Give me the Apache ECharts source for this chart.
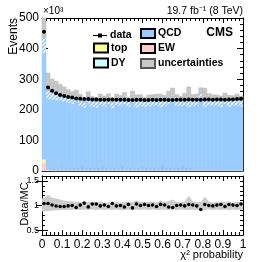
<!DOCTYPE html>
<html><head><meta charset="utf-8">
<script src="https://cdn.jsdelivr.net/npm/echarts@6/dist/echarts.min.js"></script>
<style>html,body{margin:0;padding:0;background:#fff}#c{width:270px;height:262px}</style>
</head><body><div id="c"></div>
<script>
// ---- data (events in units of 10^3), 50 bins of chi2 probability in [0,1] ----
const nBins = 50;
const xRange = [0, 1];
const dataEvents = [455, 273, 262, 254, 248, 245, 242, 240, 237, 236,
  235, 235, 234, 234, 233, 233, 233, 234, 233, 233,
  233, 232, 232, 233, 233, 232, 232, 233, 232, 233,
  233, 232, 232, 233, 233, 233, 234, 233, 233, 233,
  234, 234, 233, 234, 234, 233, 234, 234, 235, 236];
const qcd = [398, 258, 257, 255, 251, 248, 242, 238, 245, 232,
  222, 240, 225, 225, 233, 229, 236, 223, 233, 231,
  238, 225, 242, 224, 231, 225, 230, 229, 235, 226,
  229, 237, 240, 231, 229, 233, 227, 229, 233, 252,
  227, 232, 233, 230, 227, 236, 227, 230, 233, 227];
const ew = [27, 3, 1.2, 1.2, 1.2, 1.2, 1.2, 1.2, 1.2, 1.2,
  1.2, 1.2, 1.2, 1.2, 1.2, 1.2, 1.2, 1.2, 1.2, 1.2,
  1.2, 1.2, 1.2, 1.2, 1.2, 1.2, 1.2, 1.2, 1.2, 1.2,
  1.2, 1.2, 1.2, 1.2, 1.2, 1.2, 1.2, 1.2, 1.2, 1.2,
  1.2, 1.2, 1.2, 1.2, 1.2, 1.2, 1.2, 1.2, 1.2, 1.2];
const topq = [9, 1, 0.5, 0.5, 0.5, 0.5, 0.5, 0.5, 0.5, 0.5,
  0.5, 0.5, 0.5, 0.5, 0.5, 0.5, 0.5, 0.5, 0.5, 0.5,
  0.5, 0.5, 0.5, 0.5, 0.5, 0.5, 0.5, 0.5, 0.5, 0.5,
  0.5, 0.5, 0.5, 0.5, 0.5, 0.5, 0.5, 0.5, 0.5, 0.5,
  0.5, 0.5, 0.5, 0.5, 0.5, 0.5, 0.5, 0.5, 0.5, 0.5];
const dy = [3, 0.5, 0.3, 0.3, 0.3, 0.3, 0.3, 0.3, 0.3, 0.3,
  0.3, 0.3, 0.3, 0.3, 0.3, 0.3, 0.3, 0.3, 0.3, 0.3,
  0.3, 0.3, 0.3, 0.3, 0.3, 0.3, 0.3, 0.3, 0.3, 0.3,
  0.3, 0.3, 0.3, 0.3, 0.3, 0.3, 0.3, 0.3, 0.3, 0.3,
  0.3, 0.3, 0.3, 0.3, 0.3, 0.3, 0.3, 0.3, 0.3, 0.3];
// relative MC uncertainty (up / down)
const uncUp = [0.15, 0.22, 0.16, 0.14, 0.12, 0.10, 0.09, 0.08, 0.07, 0.07,
  0.06, 0.07, 0.07, 0.06, 0.07, 0.06, 0.06, 0.06, 0.07, 0.06,
  0.07, 0.06, 0.07, 0.10, 0.07, 0.06, 0.07, 0.08, 0.06, 0.10,
  0.07, 0.09, 0.12, 0.07, 0.06, 0.08, 0.20, 0.08, 0.07, 0.07,
  0.18, 0.08, 0.06, 0.07, 0.07, 0.07, 0.08, 0.06, 0.07, 0.07];
const uncDn = [0.12, 0.11, 0.10, 0.10, 0.09, 0.09, 0.09, 0.09, 0.08, 0.09,
  0.08, 0.09, 0.08, 0.09, 0.08, 0.09, 0.08, 0.09, 0.08, 0.09,
  0.09, 0.08, 0.09, 0.08, 0.09, 0.08, 0.09, 0.08, 0.09, 0.09,
  0.08, 0.09, 0.08, 0.09, 0.08, 0.09, 0.09, 0.08, 0.09, 0.08,
  0.09, 0.08, 0.09, 0.08, 0.09, 0.08, 0.09, 0.08, 0.09, 0.08];
const yTicksRatio = [0.5, 1, 1.5];

// ---- derived ----
const binW = (xRange[1] - xRange[0]) / nBins;
const edgeLo = i => xRange[0] + i * binW;
const centers = dataEvents.map((_, i) => edgeLo(i) + binW / 2);
const lvl1 = ew.slice();
const lvl2 = lvl1.map((v, i) => v + topq[i]);
const lvl3 = lvl2.map((v, i) => v + dy[i]);
const mcTot = lvl3.map((v, i) => v + qcd[i]);
const ratio = dataEvents.map((d, i) => d / mcTot[i]);

const FONT = 'Liberation Sans, Arial, Helvetica, sans-serif';
const C_QCD = '#99ccff', C_EW = '#ffcccc', C_TOP = '#ffff99', C_DY = '#ccffff', C_UNC = '#c8c8c8';

function hatchCanvas() {
  const c = document.createElement('canvas'); c.width = 4; c.height = 4;
  const g = c.getContext('2d');
  g.fillStyle = '#9cc9f5'; g.fillRect(0, 0, 4, 4);
  g.strokeStyle = '#f2f8ff'; g.lineWidth = 1.3;
  g.beginPath();
  g.moveTo(0, 4); g.lineTo(4, 0);
  g.moveTo(-1, 1); g.lineTo(1, -1);
  g.moveTo(3, 5); g.lineTo(5, 3);
  g.stroke();
  return c;
}
const hatchFill = { image: hatchCanvas(), repeat: 'repeat' };

function clipRect(params, r) {
  const cs = params.coordSys;
  return echarts.graphic.clipRectByRect(r, { x: cs.x, y: cs.y, width: cs.width, height: cs.height });
}
function histSeries(name, fill, lows, highs, legendStyle, extraStyle) {
  return {
    type: 'custom', name, xAxisIndex: 0, yAxisIndex: 0,
    itemStyle: legendStyle,
    data: lows.map((lo, i) => [edgeLo(i), edgeLo(i + 1), lo, highs[i]]),
    encode: { x: [0, 1], y: [2, 3] },
    silent: true, animation: false,
    renderItem: (params, api) => {
      const p0 = api.coord([api.value(0), api.value(2)]);
      const p1 = api.coord([api.value(1), api.value(3)]);
      const r = clipRect(params, { x: p0[0], y: p1[1], width: p1[0] - p0[0], height: p0[1] - p1[1] });
      if (!r) return null;
      return { type: 'rect', shape: r, style: Object.assign({ fill: fill }, extraStyle || {}) };
    }
  };
}

const zeros = dataEvents.map(() => 0);
const uncLoVals = mcTot.map((m, i) => m * (1 - uncDn[i]));
const uncHiVals = mcTot.map((m, i) => m * (1 + uncUp[i]));
const legBorder = { borderColor: '#000', borderWidth: 1 };

const series = [
  histSeries('EW', C_EW, zeros, lvl1, Object.assign({ color: C_EW }, legBorder), { stroke: C_EW, lineWidth: 0.5 }),
  histSeries('top', C_TOP, lvl1, lvl2, Object.assign({ color: C_TOP }, legBorder), { stroke: C_TOP, lineWidth: 0.5 }),
  histSeries('DY', C_DY, lvl2, lvl3, Object.assign({ color: C_DY }, legBorder), { stroke: C_DY, lineWidth: 0.5 }),
  histSeries('QCD', C_QCD, lvl3, mcTot, Object.assign({ color: C_QCD }, legBorder), { stroke: C_QCD, lineWidth: 0.5 }),
  histSeries('uncHatch', hatchFill, uncLoVals, mcTot, { color: C_QCD }, {}),
  histSeries('uncertainties', C_UNC, mcTot, uncHiVals, { color: C_UNC, borderColor: '#555', borderWidth: 1 }, { stroke: '#b4b4b4', lineWidth: 0.5 }),
  {
    type: 'custom', name: 'ratioBand', xAxisIndex: 2, yAxisIndex: 2, silent: true, animation: false,
    data: [0],
    renderItem: (params, api) => {
      const pts = [];
      const hi = uncUp.map(u => 1 + u);
      const lo = uncDn.map(u => 1 - u);
      pts.push(api.coord([xRange[0], hi[0]]));
      centers.forEach((x, i) => pts.push(api.coord([x, hi[i]])));
      pts.push(api.coord([xRange[1], hi[nBins - 1]]));
      pts.push(api.coord([xRange[1], lo[nBins - 1]]));
      for (let i = nBins - 1; i >= 0; i--) pts.push(api.coord([centers[i], lo[i]]));
      pts.push(api.coord([xRange[0], lo[0]]));
      return { type: 'polygon', shape: { points: pts }, style: { fill: '#cccccc' } };
    }
  },
  {
    type: 'scatter', name: 'data', xAxisIndex: 0, yAxisIndex: 0, symbol: 'circle', symbolSize: 4,
    itemStyle: { color: '#000', opacity: 1, borderWidth: 0 }, data: centers.map((x, i) => [x, dataEvents[i]]), z: 10, silent: true, animation: false
  },
  {
    type: 'scatter', name: 'ratio', xAxisIndex: 2, yAxisIndex: 2, symbol: 'circle', symbolSize: 3.6,
    itemStyle: { color: '#000', opacity: 1, borderWidth: 0 }, data: centers.map((x, i) => [x, ratio[i]]), z: 10, silent: true, animation: false
  }
];

const axLine = { show: true, onZero: false, lineStyle: { color: '#000', width: 1 } };
function xAx(grid, pos, labels) {
  return {
    type: 'value', gridIndex: grid, position: pos, min: xRange[0], max: xRange[1], interval: 0.1,
    axisLine: axLine,
    axisTick: { show: true, inside: true, length: 5, lineStyle: { color: '#000' } },
    minorTick: { show: true, splitNumber: 5, length: 3, lineStyle: { color: '#000' } },
    splitLine: { show: false }, minorSplitLine: { show: false },
    axisLabel: labels ? {
      show: true, color: '#000', fontSize: 12, fontFamily: FONT, margin: 4,
      formatter: v => String(Math.round(v * 10) / 10)
    } : { show: false }
  };
}
function ratioAxis(pos, labels, custom) {
  const a = {
    type: 'value', gridIndex: 1, position: pos, min: 0.4, max: 1.6,
    splitLine: { show: false },
    axisLine: custom ? { show: false } : axLine,
    axisTick: custom ? { show: true, inside: true, length: 6, customValues: yTicksRatio, lineStyle: { color: '#000' } }
                     : { show: true, inside: true, length: 3, lineStyle: { color: '#000' } },
    axisLabel: { show: false }
  };
  if (!custom) a.interval = 0.1;
  if (labels) a.axisLabel = {
    show: true, color: '#000', fontSize: 9, fontFamily: FONT, margin: 3,
    formatter: v => (yTicksRatio.some(t => Math.abs(t - v) < 1e-6) ? String(Math.round(v * 10) / 10) : '')
  };
  return a;
}
function upperY(pos, labels) {
  return {
    type: 'value', gridIndex: 0, position: pos, min: 0, max: 500, interval: 100,
    axisLine: axLine, splitLine: { show: false },
    axisTick: { show: true, inside: true, length: 6, lineStyle: { color: '#000' } },
    minorTick: { show: true, splitNumber: 5, length: 3, lineStyle: { color: '#000' } },
    axisLabel: labels ? { color: '#000', fontSize: 12, fontFamily: FONT, margin: 3 } : { show: false }
  };
}
const legText = { color: '#000', fontSize: 10.5, fontWeight: 'bold', fontFamily: FONT, lineHeight: 10, padding: [0, 0, 0, -2] };
const option = {
  animation: false,
  backgroundColor: '#fff',
  grid: [
    { left: 42, top: 18, width: 201, height: 153, outerBoundsMode: 'none' },
    { left: 42, top: 176, width: 201, height: 59, outerBoundsMode: 'none' }
  ],
  xAxis: [xAx(0, 'bottom', false), xAx(0, 'top', false), xAx(1, 'bottom', true), xAx(1, 'top', false)],
  yAxis: [upperY('left', true), upperY('right', false),
    ratioAxis('left', true, false), ratioAxis('right', false, false),
    ratioAxis('left', false, true), ratioAxis('right', false, true)],
  legend: [
    {
      left: 93, top: 30, padding: 0, orient: 'vertical', itemWidth: 14, itemHeight: 4, selectedMode: false,
      data: [{ name: 'data', icon: 'path://M0,1.5L14,1.5L14,2.5L0,2.5Z M5,0L9,0L9,4L5,4Z' }],
      textStyle: legText
    },
    {
      left: 93, top: 42.5, padding: 0, orient: 'vertical', itemWidth: 14, itemHeight: 9, itemGap: 4, selectedMode: false,
      data: [{ name: 'top', icon: 'rect' }, { name: 'DY', icon: 'rect' }],
      textStyle: legText
    },
    {
      left: 140, top: 28, padding: 0, orient: 'vertical', itemWidth: 14, itemHeight: 9, itemGap: 4, selectedMode: false,
      data: [{ name: 'QCD', icon: 'rect' }, { name: 'EW', icon: 'rect' }, { name: 'uncertainties', icon: 'rect' }],
      textStyle: legText
    }
  ],
  graphic: [
    { type: 'text', x: 14, y: 18, rotation: Math.PI / 2, style: { text: 'Events', font: '12px ' + FONT, fill: '#000', align: 'right', verticalAlign: 'middle' } },
    { type: 'text', x: 25, y: 204, rotation: Math.PI / 2, style: { text: 'Data/MC', font: '11px ' + FONT, fill: '#000', align: 'center', verticalAlign: 'middle' } },
    { type: 'text', x: 43, y: 11, style: { text: '×10³', font: '10px ' + FONT, fill: '#000', align: 'left', verticalAlign: 'middle' } },
    { type: 'text', x: 243, y: 11, style: { text: '19.7 fb⁻¹ (8 TeV)', font: '10.5px ' + FONT, fill: '#000', align: 'right', verticalAlign: 'middle' } },
    { type: 'text', x: 233, y: 33, style: { text: 'CMS', font: 'bold 12px ' + FONT, fill: '#000', align: 'right', verticalAlign: 'middle' } },
    { type: 'text', x: 243, y: 255, style: { text: 'χ² probability', font: '11px ' + FONT, fill: '#000', align: 'right', verticalAlign: 'middle' } }
  ],
  series: series
};
const chart = echarts.init(document.getElementById('c'), null, { renderer: 'canvas' });
chart.setOption(option);
</script>
</body></html>
